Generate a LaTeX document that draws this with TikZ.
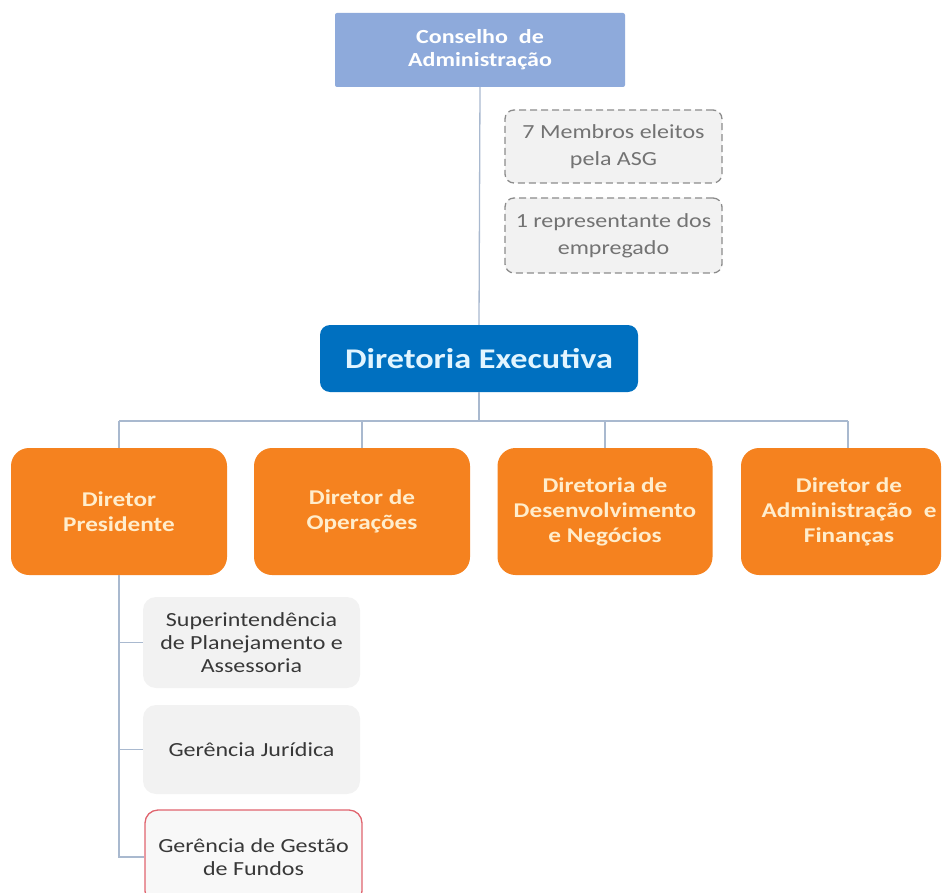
\documentclass[tikz,border=0pt]{standalone}
\usepackage{fontspec}
\setmainfont{Carlito}[FakeStretch=1.2]
\definecolor{consfill}{HTML}{8EAADB}
\definecolor{defill}{HTML}{0070C0}
\definecolor{orfill}{HTML}{F5821F}
\definecolor{greyfill}{HTML}{F2F2F2}
\definecolor{dashline}{HTML}{8C8C8C}
\definecolor{redline}{HTML}{E0646E}
\definecolor{connline}{HTML}{A9B9CF}
\definecolor{ortext}{HTML}{FFEDCC}
\definecolor{detext}{HTML}{E2F5FF}
\tikzset{
  base/.style={align=center, inner sep=0pt},
  cons/.style={base, fill=consfill, rounded corners=2pt, minimum width=290, minimum height=74,
    text=white, font=\bfseries\fontsize{20}{23}\selectfont},
  memb/.style={base, fill=greyfill, draw=dashline, dash pattern=on 7pt off 4pt, line width=1.3pt,
    rounded corners=9pt, minimum width=217, text=black!55, font=\fontsize{20}{27}\selectfont},
  dirx/.style={base, fill=defill, rounded corners=10pt, minimum width=318, minimum height=67,
    text=detext, font=\bfseries\fontsize{28.5}{32}\selectfont},
  obox/.style={base, fill=orfill, rounded corners=18pt, minimum width=216, minimum height=127,
    text=ortext, font=\bfseries\fontsize{21}{25}\selectfont},
  otext/.style={base, text=ortext, font=\bfseries\fontsize{21}{25}\selectfont},
  gbox/.style={base, fill=greyfill, rounded corners=13pt, minimum width=217,
    text=black!78, font=\fontsize{20}{23}\selectfont},
  rbox/.style={gbox, fill=greyfill!50, draw=redline, line width=1.3pt},
  conn/.style={draw=connline, line width=1.3pt}
}
\begin{document}
\begin{tikzpicture}[x=1pt, y=-1pt]
\useasboundingbox (0,0) rectangle (942,893);
\clip (0,0) rectangle (942,893);

% board and executive board
\node[cons] (cons) at (480,50) {Conselho\ \ de\\Administração};
\node[memb, minimum height=73] (m1) at (613.5,146.5) {7 Membros eleitos\\pela ASG};
\node[memb, minimum height=75] (m2) at (613.5,235.5) {1 representante dos\\empregado};
\node[dirx] (de) at (479,358.5) {Diretoria Executiva};

% directors
\node[obox] (dp) at (119,511.5) {Diretor\\Presidente};
\node[obox] (dop) at (362,511.5) {Diretor de\\Operações};
\node[obox, minimum width=215] (ddn) at (605,511.5) {Diretoria de\\Desenvolvimento\\e Negócios};
\node[obox, minimum width=200] (dadm) at (841,511.5) {};
\node[otext] (dadmt) at (849,511.5) {Diretor de\\Administração\ \ e\\Finanças};

% units under the president
\node[gbox, minimum height=91] (sp) at (251.5,642.5) {Superintendência\\de Planejamento e\\Assessoria};
\node[gbox, minimum height=89] (gj) at (251.5,749.5) {Gerência Jurídica};
\node[rbox, minimum height=94] (gg) at (253.5,857) {Gerência de Gestão\\de Fundos};

% connectors
\coordinate (busL) at (119,421);
\coordinate (busR) at (848,421);
\coordinate (dadmtop) at (848,448);
\draw[conn] (cons.south) -- (de.north);
\draw[conn] (de.south) -- (de.south |- busL);
\draw[conn] (busL) -- (busR);
\draw[conn] (busL) -- (dp.north);
\draw[conn] (dop.north |- busL) -- (dop.north);
\draw[conn] (ddn.north |- busL) -- (ddn.north);
\draw[conn] (busR) -- (dadmtop);
\draw[conn] (dp.south) |- (sp.west);
\draw[conn] (dp.south) |- (gj.west);
\draw[conn] (dp.south) |- (gg.west);
\end{tikzpicture}
\end{document}
